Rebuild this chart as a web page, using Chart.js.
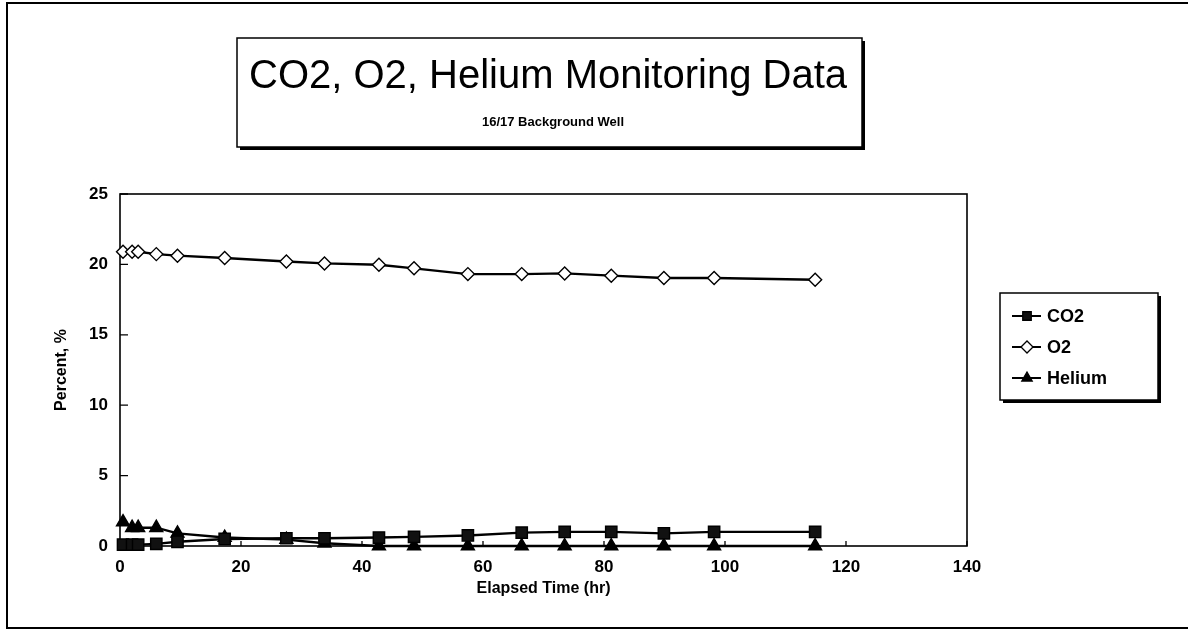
<!DOCTYPE html>
<html>
<head>
<meta charset="utf-8">
<title>CO2, O2, Helium Monitoring Data</title>
<script src="https://cdn.jsdelivr.net/npm/chart.js@4.4.0/dist/chart.umd.min.js"></script>
<style>
    html, body { margin: 0; padding: 0; background: #fff; }
    #wrap { width: 1188px; height: 632px; position: relative; }
</style>
</head>
<body>
<div id="wrap"><canvas id="gasChart" width="1188" height="632"></canvas></div>
<script>
const FONT = "'Liberation Sans', Arial, sans-serif";
const TITLE_TEXT = "CO2, O2, Helium Monitoring Data";
const SUBTITLE_TEXT = "16/17 Background Well";
const X_TITLE = "Elapsed Time (hr)";
const Y_TITLE = "Percent, %";

// elapsed time of each sample, hours
const elapsedHours = [0.5, 2, 3, 6, 9.5, 17.3, 27.5, 33.8, 42.8, 48.6, 57.5, 66.4, 73.5, 81.2, 89.9, 98.2, 114.9];
const co2Values = [0.1, 0.1, 0.1, 0.15, 0.3, 0.5, 0.55, 0.55, 0.6, 0.65, 0.75, 0.95, 1.0, 1.0, 0.9, 1.0, 1.0];
const o2Values = [20.9, 20.9, 20.9, 20.73, 20.62, 20.45, 20.21, 20.07, 19.98, 19.72, 19.31, 19.31, 19.36, 19.2, 19.03, 19.03, 18.91];
const heliumValues = [1.7, 1.3, 1.3, 1.3, 0.9, 0.6, 0.45, 0.2, 0.0, 0.0, 0.0, 0.0, 0.0, 0.0, 0.0, 0.0, 0.0];

const xTicks = [0, 20, 40, 60, 80, 100, 120, 140];
const yTicks = [0, 5, 10, 15, 20, 25];

function toPoints(values) {
    return elapsedHours.map((t, i) => ({ x: t, y: values[i] }));
}

function makeSeries(label, values, pointStyle, fill, radius) {
    return {
        label: label,
        data: toPoints(values),
        showLine: true,
        borderColor: "#000",
        borderWidth: 2.4,
        pointStyle: pointStyle,
        pointRadius: radius,
        pointBackgroundColor: fill,
        pointBorderColor: "#000",
        pointBorderWidth: 1.4,
        clip: false,
    };
}

// boxes, frame, inner tick marks and the hand placed legend
const decorations = {
    id: "decorations",
    beforeDatasetsDraw(chart) {
        const ctx = chart.ctx;
        const area = chart.chartArea;
        const xs = chart.scales.x;
        const ys = chart.scales.y;
        ctx.save();
        ctx.strokeStyle = "#000";
        ctx.lineWidth = 1.6;
        ctx.strokeRect(area.left, area.top, area.right - area.left, area.bottom - area.top);
        ctx.lineWidth = 1.3;
        ctx.beginPath();
        yTicks.forEach((v) => {
            let py = ys.getPixelForValue(v);
            ctx.moveTo(area.left, py);
            ctx.lineTo(area.left + 8, py);
        });
        xTicks.forEach((v) => {
            let px = xs.getPixelForValue(v);
            ctx.moveTo(px, area.bottom);
            ctx.lineTo(px, area.bottom - 5);
        });
        ctx.stroke();
        ctx.restore();
    },
    afterDraw(chart) {
        const ctx = chart.ctx;
        ctx.save();

        // outer frame
        ctx.strokeStyle = "#000";
        ctx.lineWidth = 2;
        ctx.beginPath();
        ctx.moveTo(1188, 3);
        ctx.lineTo(7, 3);
        ctx.lineTo(7, 628);
        ctx.lineTo(1188, 628);
        ctx.stroke();

        // title box with drop shadow
        ctx.fillStyle = "#000";
        ctx.fillRect(240, 41, 625, 109);
        ctx.fillStyle = "#fff";
        ctx.fillRect(237, 38, 625, 109);
        ctx.lineWidth = 1.5;
        ctx.strokeRect(237, 38, 625, 109);

        ctx.fillStyle = "#000";
        ctx.textAlign = "center";
        ctx.textBaseline = "middle";
        ctx.font = "40px " + FONT;
        ctx.fillText(TITLE_TEXT, 548, 77);
        ctx.font = "bold 13px " + FONT;
        ctx.fillText(SUBTITLE_TEXT, 553, 122);

        // legend box
        ctx.fillStyle = "#000";
        ctx.fillRect(1003, 296, 158, 107);
        ctx.fillStyle = "#fff";
        ctx.fillRect(1000, 293, 158, 107);
        ctx.strokeRect(1000, 293, 158, 107);

        ctx.textAlign = "left";
        ctx.font = "bold 18px " + FONT;
        chart.data.datasets.forEach((ds, i) => {
            let ly = 316 + i * 31;
            ctx.strokeStyle = "#000";
            ctx.lineWidth = 2;
            ctx.beginPath();
            ctx.moveTo(1012, ly);
            ctx.lineTo(1041, ly);
            ctx.stroke();
            ctx.fillStyle = ds.pointBackgroundColor;
            ctx.lineWidth = 1.3;
            Chart.helpers.drawPoint(ctx, { pointStyle: ds.pointStyle, radius: 6, borderWidth: 1.3, rotation: 0 }, 1027, ly);
            ctx.fillStyle = "#000";
            ctx.fillText(ds.label, 1047, ly + 1);
        });
        ctx.restore();
    },
};

const tickFont = { family: FONT, size: 17, weight: "bold" };
const titleFont = { family: FONT, size: 16, weight: "bold" };

const config = {
    type: "scatter",
    data: {
        datasets: [
            makeSeries("CO2", co2Values, "rect", "#111", 8),
            makeSeries("O2", o2Values, "rectRot", "#fff", 6.5),
            makeSeries("Helium", heliumValues, "triangle", "#000", 7.5),
        ],
    },
    options: {
        responsive: false,
        animation: false,
        devicePixelRatio: 1,
        layout: { padding: { left: 0, top: 194, right: 221, bottom: 0 } },
        plugins: {
            legend: { display: false },
            title: { display: false },
            tooltip: { enabled: false },
        },
        scales: {
            x: {
                type: "linear",
                min: 0,
                max: 140,
                afterFit: (s) => { s.height = 86; },
                afterBuildTicks: (s) => { s.ticks = xTicks.map((v) => ({ value: v })); },
                grid: { display: false, drawTicks: false },
                border: { display: false },
                ticks: { color: "#000", font: tickFont, padding: 11, maxRotation: 0 },
                title: { display: true, text: X_TITLE, color: "#000", font: titleFont, padding: { top: 0, bottom: 34 } },
            },
            y: {
                type: "linear",
                min: 0,
                max: 25,
                afterFit: (s) => { s.width = 120; },
                afterBuildTicks: (s) => { s.ticks = yTicks.map((v) => ({ value: v })); },
                grid: { display: false, drawTicks: false },
                border: { display: false },
                ticks: { color: "#000", font: tickFont, padding: 12 },
                title: { display: true, text: Y_TITLE, color: "#000", font: titleFont, padding: { top: 52, bottom: 0 } },
            },
        },
    },
    plugins: [decorations],
};

let gasChart = new Chart(document.getElementById("gasChart").getContext("2d"), config);
</script>
</body>
</html>
